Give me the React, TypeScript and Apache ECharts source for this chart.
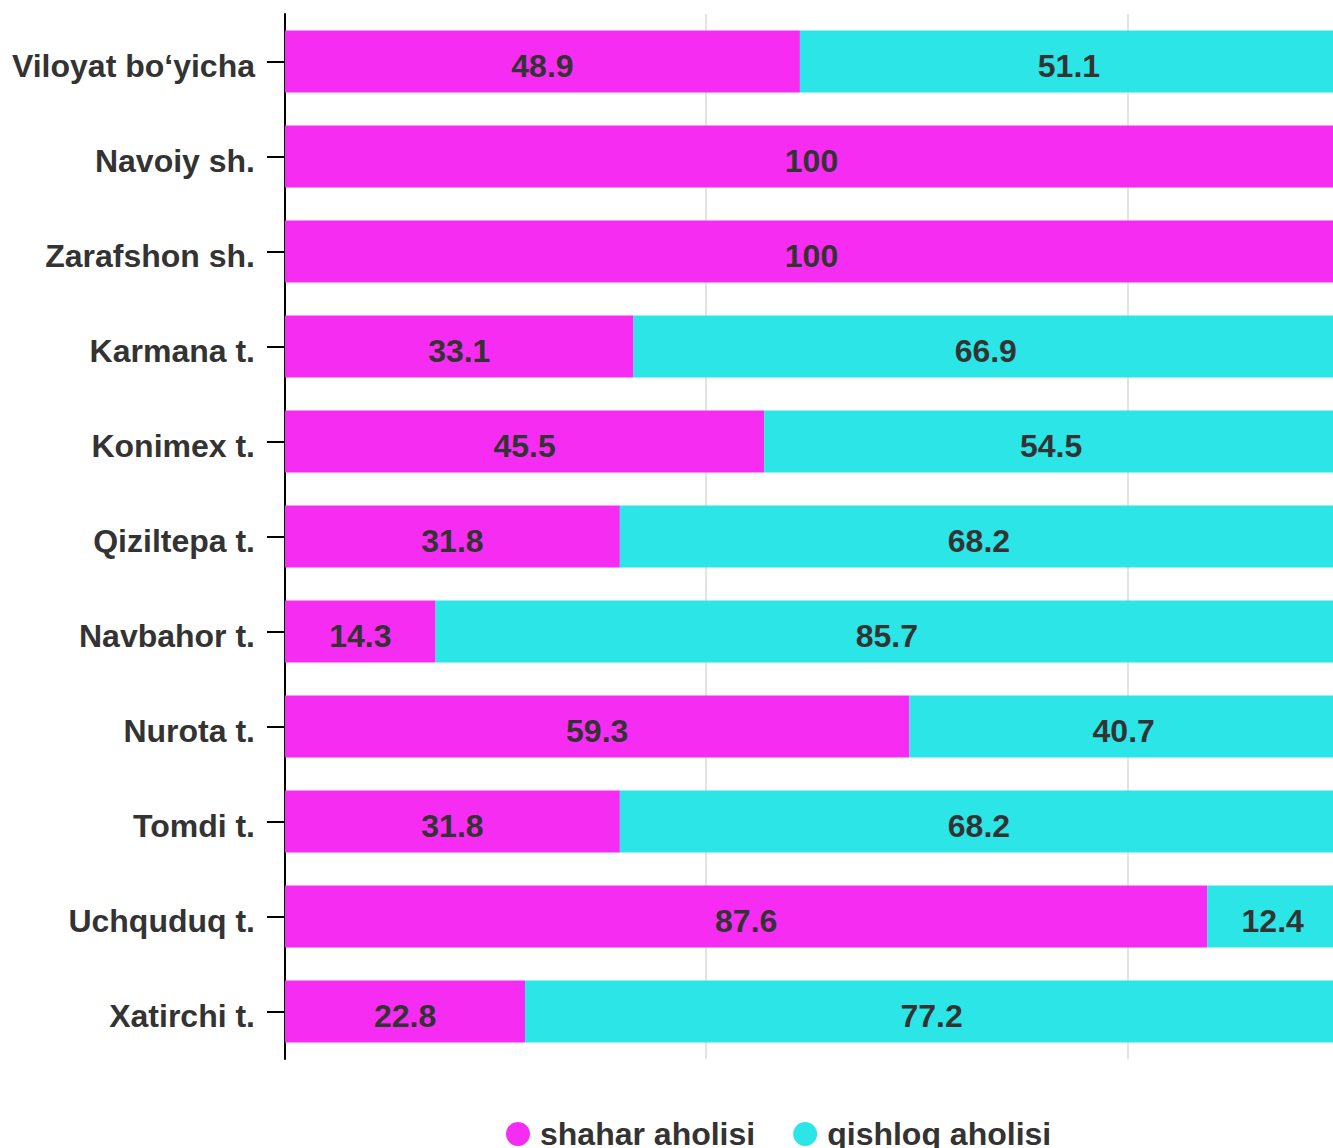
import React, { useEffect, useRef } from "react";
import * as echarts from "echarts";

const categories = [
  "Viloyat bo‘yicha",
  "Navoiy sh.",
  "Zarafshon sh.",
  "Karmana t.",
  "Konimex t.",
  "Qiziltepa t.",
  "Navbahor t.",
  "Nurota t.",
  "Tomdi t.",
  "Uchquduq t.",
  "Xatirchi t.",
];
const shaharValues = [48.9, 100, 100, 33.1, 45.5, 31.8, 14.3, 59.3, 31.8, 87.6, 22.8];
const qishloqValues = [51.1, 0, 0, 66.9, 54.5, 68.2, 85.7, 40.7, 68.2, 12.4, 77.2];
const seriesNames = ["shahar aholisi", "qishloq aholisi"];

const FONT = "Arial, 'Liberation Sans', sans-serif";

export default function App() {
  const ref = useRef<HTMLDivElement>(null);
  useEffect(() => {
    document.body.style.overflow = "hidden";
    const chart = echarts.init(ref.current!, null, { renderer: "svg" });
    const label = {
      show: true,
      position: "inside",
      color: "#333",
      fontSize: 32,
      fontWeight: "bold",
      fontFamily: FONT,
      offset: [0, 4],
      formatter: (p: any) => (p.value ? String(p.value) : ""),
    };
    chart.setOption({
      animation: false,
      textStyle: { fontFamily: FONT },
      grid: { left: 285, right: 0, top: 14, bottom: 1148 - 1059, containLabel: false },
      legend: {
        left: 501,
        top: 1113,
        icon: "circle",
        itemWidth: 24,
        itemHeight: 24,
        itemGap: 38,
        textStyle: { fontSize: 32, fontWeight: "bold", color: "#333", fontFamily: FONT, padding: [4, 0, 0, 5] },
        data: seriesNames,
      },
      xAxis: {
        type: "value",
        min: 0,
        max: 100,
        interval: 40,
        axisLine: { show: false },
        axisTick: { show: false },
        axisLabel: { show: false },
        splitLine: { show: true, lineStyle: { color: "#e3e3e3", width: 2 } },
      },
      yAxis: {
        type: "category",
        data: categories,
        inverse: true,
        axisLine: { show: true, lineStyle: { color: "#000", width: 2 } },
        axisTick: { show: true, length: 18, alignWithLabel: true, lineStyle: { color: "#000", width: 2 } },
        axisLabel: {
          margin: 30,
          formatter: (v: string) => "{a|" + v + "}",
          rich: {
            a: {
              fontSize: 32,
              fontWeight: "bold",
              color: "#333",
              fontFamily: FONT,
              padding: [8, 0, 0, 0],
            },
          },
        },
      },
      series: [
        {
          name: seriesNames[0],
          type: "bar",
          stack: "total",
          barWidth: 62,
          itemStyle: { color: "#f72cf2" },
          label,
          data: shaharValues,
        },
        {
          name: seriesNames[1],
          type: "bar",
          stack: "total",
          barWidth: 62,
          itemStyle: { color: "#2ce5e7" },
          label,
          data: qishloqValues,
        },
      ],
    });
    return () => chart.dispose();
  }, []);
  return (
    <div
      ref={ref}
      style={{ position: "absolute", left: 0, top: 0, width: 1338, height: 1148 }}
    />
  );
}
